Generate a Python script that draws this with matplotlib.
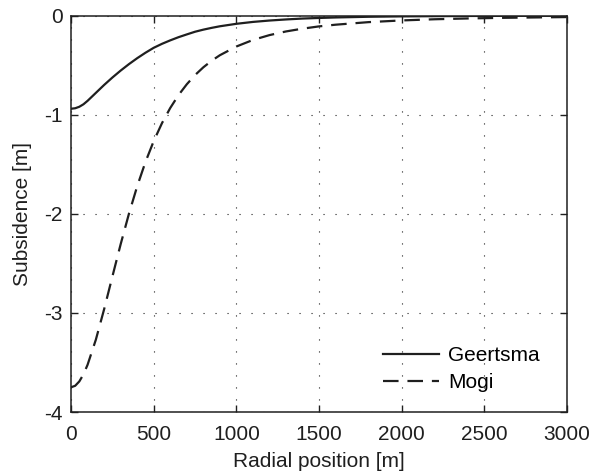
import numpy as np
import matplotlib
matplotlib.use('Agg')
import matplotlib.pyplot as plt

plt.rcParams['font.family'] = ['Liberation Sans', 'DejaVu Sans']

# radial positions [m]
r = [0, 25, 50, 75, 100, 150, 200, 250, 300, 350, 400, 450, 500, 550, 600,
     650, 700, 750, 800, 850, 900, 1000, 1100, 1200, 1300, 1400, 1500, 1600,
     1800, 2000, 2200, 2400, 2600, 2800, 3000]

# subsidence [m]
geertsma = [-0.94, -0.935, -0.92, -0.895, -0.86, -0.78, -0.70, -0.625, -0.555,
            -0.49, -0.43, -0.375, -0.325, -0.285, -0.25, -0.218, -0.19, -0.163,
            -0.142, -0.124, -0.108, -0.083, -0.064, -0.050, -0.039, -0.030,
            -0.024, -0.019, -0.012, -0.008, -0.006, -0.004, -0.003, -0.002,
            -0.002]
mogi = [-3.75, -3.735, -3.691, -3.62, -3.523, -3.270, -2.963, -2.633, -2.307,
        -2.000, -1.722, -1.477, -1.266, -1.085, -0.932, -0.802, -0.693, -0.600,
        -0.522, -0.456, -0.400, -0.312, -0.246, -0.197, -0.160, -0.132, -0.109,
        -0.092, -0.066, -0.049, -0.037, -0.029, -0.023, -0.019, -0.015]

xticks = [0, 500, 1000, 1500, 2000, 2500, 3000]
yticks = [-4, -3, -2, -1, 0]

fs = 15
ink = '#1f1f1f'

fig = plt.figure(figsize=(5.92, 4.72), dpi=100)
ax = fig.add_axes([0.12, 0.127, 0.838, 0.84])

ax.plot(r, geertsma, color=ink, lw=1.6, label='Geertsma')
ax.plot(r, mogi, color=ink, lw=1.6, dashes=(7, 4), label='Mogi')

ax.set_xlim(0, 3000)
ax.set_ylim(-4, 0)
ax.set_xticks(xticks)
ax.set_yticks(yticks)
ax.set_xticklabels([str(v) for v in xticks])
ax.set_yticklabels([str(v) for v in yticks])

ax.grid(True, color=ink, linestyle=(0, (1, 9.8)), linewidth=0.8)
ax.tick_params(direction='in', top=True, right=True, length=5, width=1,
               labelsize=fs, colors=ink)
ax.tick_params(axis='x', pad=9)
ax.tick_params(axis='y', pad=6)
for s in ax.spines.values():
    s.set_linewidth(1.1)
    s.set_color(ink)

ax.set_xlabel('Radial position [m]', fontsize=fs, color=ink, labelpad=6)
ax.set_ylabel('Subsidence [m]', fontsize=fs, color=ink, labelpad=9)

ax.legend(loc='lower right', bbox_to_anchor=(0.984, 0), frameon=False,
          fontsize=fs, handlelength=2.7, handletextpad=0.4, labelspacing=0.4,
          borderaxespad=0.55)

fig.savefig('out.png', dpi=100)
